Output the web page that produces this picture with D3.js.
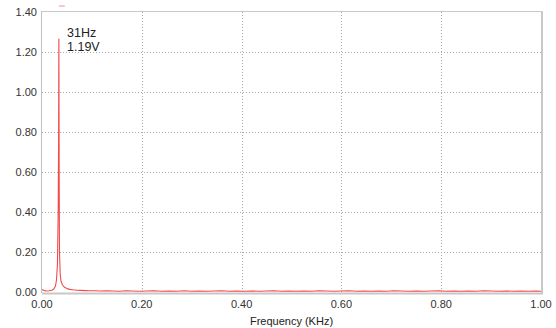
<!DOCTYPE html>
<html>
<head>
<meta charset="utf-8">
<script src="https://cdn.jsdelivr.net/npm/d3@7"></script>
<style>
  body { margin: 0; background: #fff; }
  text { font-family: "Liberation Sans", Arial, sans-serif; }
</style>
</head>
<body>
<script>
(function() {
    "use strict";
    //spectrum: frequency in KHz, amplitude in V
    var freqs = [0.000, 0.004, 0.008, 0.014, 0.020, 0.024, 0.027, 0.029, 0.031, 0.0325, 0.0332, 0.0338, 0.0344, 0.035, 0.0365, 0.038, 0.041, 0.045, 0.050, 0.056, 0.062, 0.070, 0.078, 0.086, 0.095,
                 0.105, 0.118, 0.130, 0.142, 0.155, 0.168, 0.180, 0.195, 0.210, 0.225, 0.240, 0.255, 0.270, 0.285, 0.300, 0.315, 0.330, 0.345, 0.360, 0.375, 0.390, 0.405,
                 0.420, 0.435, 0.450, 0.465, 0.480, 0.495, 0.510, 0.525, 0.540, 0.555, 0.570, 0.585, 0.600, 0.615, 0.630, 0.645, 0.660, 0.675, 0.690, 0.705, 0.720,
                 0.735, 0.750, 0.765, 0.780, 0.795, 0.810, 0.825, 0.840, 0.855, 0.870, 0.885, 0.900, 0.915, 0.930, 0.945, 0.960, 0.975, 0.990, 1.000];
    var volts = [0.012, 0.008, 0.005, 0.006, 0.009, 0.016, 0.030, 0.060, 0.140, 0.420, 0.730, 1.265, 0.600, 0.200, 0.090, 0.055, 0.035, 0.024, 0.017, 0.013, 0.011, 0.009, 0.008, 0.007, 0.006,
                 0.006, 0.005, 0.006, 0.005, 0.004, 0.006, 0.005, 0.004, 0.005, 0.006, 0.004, 0.005, 0.004, 0.006, 0.004, 0.005, 0.004, 0.005, 0.006, 0.004, 0.005, 0.004,
                 0.005, 0.004, 0.005, 0.006, 0.004, 0.005, 0.004, 0.005, 0.004, 0.006, 0.005, 0.004, 0.005, 0.006, 0.004, 0.005, 0.004, 0.005, 0.004, 0.006, 0.005,
                 0.004, 0.005, 0.004, 0.005, 0.006, 0.004, 0.005, 0.004, 0.005, 0.004, 0.006, 0.005, 0.004, 0.005, 0.004, 0.005, 0.004, 0.005, 0.004];
    var xTicks = [0, 0.2, 0.4, 0.6, 0.8, 1.0];
    var yTicks = [0, 0.2, 0.4, 0.6, 0.8, 1.0, 1.2, 1.4];
    var peakLabel = ["31Hz", "1.19V"];

    var WIDTH = 556, HEIGHT = 328;
    var LEFT = 42, RIGHT = 541, TOP = 12, BOTTOM = 292;

    var x = d3.scaleLinear().domain([0, 1]).range([LEFT, RIGHT]);
    var y = d3.scaleLinear().domain([0, 1.4]).range([BOTTOM, TOP]);

    var svg = d3.select("body").append("svg")
        .attr("width", WIDTH)
        .attr("height", HEIGHT);

    //dotted grid
    svg.append("g").selectAll("line")
        .data(yTicks.slice(1, -1))
        .enter().append("line")
        .attr("x1", LEFT).attr("x2", RIGHT)
        .attr("y1", function(d) { return Math.round(y(d)) + 0.5; })
        .attr("y2", function(d) { return Math.round(y(d)) + 0.5; })
        .attr("stroke", "#a8a8a8")
        .attr("stroke-dasharray", "1,2");
    svg.append("g").selectAll("line")
        .data(xTicks.slice(1, -1))
        .enter().append("line")
        .attr("y1", TOP).attr("y2", BOTTOM)
        .attr("x1", function(d) { return Math.round(x(d)) + 0.5; })
        .attr("x2", function(d) { return Math.round(x(d)) + 0.5; })
        .attr("stroke", "#a8a8a8")
        .attr("stroke-dasharray", "1,2");

    //frame
    svg.append("line").attr("x1", LEFT).attr("x2", RIGHT).attr("y1", TOP - 0.5).attr("y2", TOP - 0.5)
        .attr("stroke", "#c8c8c8");
    svg.append("line").attr("x1", RIGHT + 1).attr("x2", RIGHT + 1).attr("y1", TOP - 1).attr("y2", BOTTOM + 1)
        .attr("stroke", "#c8c8c8").attr("stroke-width", 2);
    svg.append("line").attr("x1", LEFT - 0.5).attr("x2", LEFT - 0.5).attr("y1", TOP - 1).attr("y2", BOTTOM + 1)
        .attr("stroke", "#c0c0c0");
    svg.append("line").attr("x1", LEFT).attr("x2", RIGHT + 2).attr("y1", BOTTOM + 1.5).attr("y2", BOTTOM + 1.5)
        .attr("stroke", "#c8c8c8").attr("stroke-width", 2);

    //axes labels
    svg.append("g").selectAll("text")
        .data(yTicks)
        .enter().append("text")
        .attr("x", 37)
        .attr("y", function(d) { return y(d) + 4; })
        .attr("text-anchor", "end")
        .attr("font-size", 11)
        .attr("fill", "#333")
        .text(function(d) { return d.toFixed(2); });
    svg.append("g").selectAll("text")
        .data(xTicks)
        .enter().append("text")
        .attr("x", function(d) { return x(d); })
        .attr("y", 308)
        .attr("text-anchor", "middle")
        .attr("font-size", 11)
        .attr("fill", "#333")
        .text(function(d) { return d.toFixed(2); });
    svg.append("text")
        .attr("x", (LEFT + RIGHT) / 2)
        .attr("y", 325)
        .attr("text-anchor", "middle")
        .attr("font-size", 11)
        .attr("fill", "#222")
        .text("Frequency (KHz)");

    //spectrum line
    var points = freqs.map(function(f, i) { return [f, volts[i]]; });
    var line = d3.line()
        .x(function(d) { return x(d[0]); })
        .y(function(d) { return y(d[1]); });
    svg.append("path")
        .datum(points)
        .attr("d", line)
        .attr("fill", "none")
        .attr("stroke", "#f24a4a")
        .attr("stroke-width", 1.1)
        .attr("stroke-linejoin", "round");

    //cursor marker and peak readout
    var peakX = x(freqs[volts.indexOf(d3.max(volts))]);
    svg.append("line")
        .attr("x1", peakX).attr("x2", peakX + 6)
        .attr("y1", 6).attr("y2", 6)
        .attr("stroke", "#f7a0a0").attr("stroke-width", 1.2);
    svg.append("g").selectAll("text")
        .data(peakLabel)
        .enter().append("text")
        .attr("x", 67)
        .attr("y", function(d, i) { return 37 + i * 14; })
        .attr("font-size", 12.5)
        .attr("fill", "#222")
        .text(function(d) { return d; });
}());
</script>
</body>
</html>
